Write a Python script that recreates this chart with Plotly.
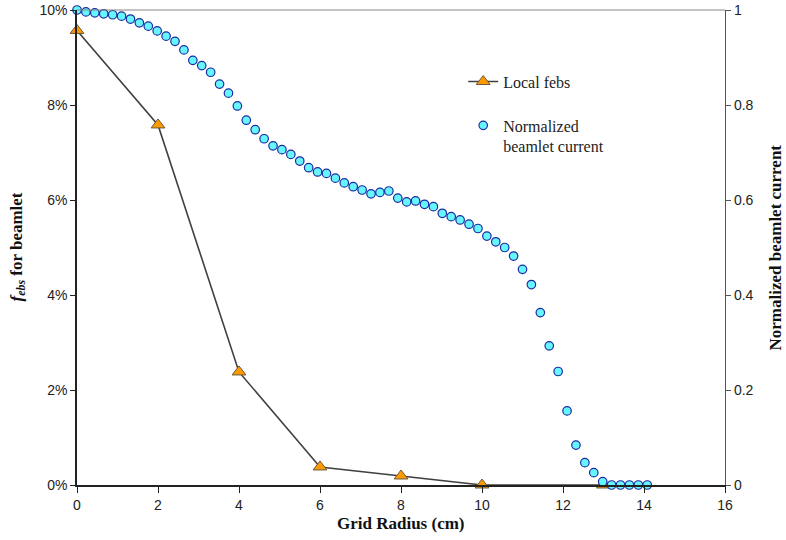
import plotly.graph_objects as go

# Local febs (fraction) vs grid radius
febs_radius = [0, 2, 4, 6, 8, 10, 13]
febs_values = [0.0957, 0.0758, 0.0238, 0.0038, 0.0019, 0.0, 0.0]

# Normalized beamlet current vs grid radius
cur_radius = [0.00, 0.22, 0.44, 0.66, 0.88, 1.10, 1.32, 1.54, 1.76, 1.98,
              2.20, 2.42, 2.64, 2.86, 3.08, 3.30, 3.52, 3.74, 3.96, 4.18,
              4.40, 4.62, 4.84, 5.06, 5.28, 5.50, 5.72, 5.94, 6.16, 6.38,
              6.60, 6.82, 7.04, 7.26, 7.48, 7.70, 7.92, 8.14, 8.36, 8.58,
              8.80, 9.02, 9.24, 9.46, 9.68, 9.90, 10.12, 10.34, 10.56, 10.78,
              11.00, 11.22, 11.44, 11.66, 11.88, 12.10, 12.32, 12.54, 12.76, 12.98,
              13.20, 13.42, 13.64, 13.86, 14.08]
cur_values = [1.000, 0.996, 0.994, 0.992, 0.990, 0.987, 0.981, 0.973, 0.966, 0.956,
              0.945, 0.934, 0.916, 0.894, 0.883, 0.869, 0.844, 0.825, 0.798, 0.768,
              0.748, 0.729, 0.714, 0.706, 0.696, 0.682, 0.668, 0.659, 0.656, 0.646,
              0.636, 0.628, 0.621, 0.613, 0.616, 0.619, 0.604, 0.596, 0.598, 0.591,
              0.586, 0.572, 0.565, 0.558, 0.549, 0.540, 0.524, 0.512, 0.500, 0.482,
              0.454, 0.422, 0.363, 0.293, 0.239, 0.156, 0.084, 0.047, 0.026, 0.007,
              0.0, 0.0, 0.0, 0.0, 0.0]

x_ticks = [0, 2, 4, 6, 8, 10, 12, 14, 16]
y_left_ticks = [0, 0.02, 0.04, 0.06, 0.08, 0.10]
y_right_ticks = [0, 0.2, 0.4, 0.6, 0.8, 1]

SERIF = "Liberation Serif, Times New Roman, serif"
SANS = "Liberation Sans, Arial, sans-serif"

fig = go.Figure()

fig.add_trace(go.Scatter(
    x=febs_radius, y=febs_values, name="Local febs",
    mode="lines+markers",
    line=dict(color="#404040", width=1.6),
    marker=dict(symbol="triangle-up", size=12, color="#FF9900",
                line=dict(color="#6b5a3a", width=1)),
    cliponaxis=False, yaxis="y", legendgroup="a",
))

fig.add_trace(go.Scatter(
    x=cur_radius, y=cur_values, name="Normalized<br>beamlet current",
    mode="markers",
    marker=dict(symbol="circle", size=8.5, color="#66F6FF",
                line=dict(color="#1c2aa0", width=1.2)),
    cliponaxis=False, yaxis="y2", legendgroup="b",
))

fig.update_layout(
    width=786, height=540,
    margin=dict(l=77, r=61, t=10, b=55, autoexpand=False),
    paper_bgcolor="white", plot_bgcolor="white",
    showlegend=True,
    legend=dict(x=0.596, y=0.885, xanchor="left", yanchor="top",
                font=dict(family=SERIF, size=16, color="#222"),
                bgcolor="rgba(0,0,0,0)", tracegroupgap=20, valign="top",
                itemwidth=30),
    xaxis=dict(range=[0, 16], tickvals=x_ticks, showgrid=False, zeroline=False,
               showline=True, linecolor="#222", linewidth=1.5, automargin=False,
               ticks="outside", ticklen=6, tickcolor="#222",
               tickfont=dict(family=SANS, size=14, color="#222")),
    yaxis=dict(range=[0, 0.10], tickvals=y_left_ticks, tickformat=".0%",
               showgrid=False, zeroline=False, automargin=False,
               showline=True, linecolor="#222", linewidth=1.5,
               ticks="outside", ticklen=5, tickcolor="#222",
               tickfont=dict(family=SANS, size=14, color="#222")),
    yaxis2=dict(range=[0, 1], tickvals=y_right_ticks, overlaying="y", side="right",
                showgrid=False, zeroline=False, automargin=False,
                showline=True, linecolor="#555", linewidth=1.2,
                ticks="outside", ticklen=5, tickcolor="#555",
                tickfont=dict(family=SANS, size=14, color="#222")),
    yaxis3=dict(range=[0, 1], tickvals=y_right_ticks, overlaying="y", side="right",
                anchor="x", showgrid=False, zeroline=False, automargin=False,
                showline=False, showticklabels=False,
                ticks="inside", ticklen=4, tickcolor="#555"),
    shapes=[dict(type="line", xref="paper", yref="paper", x0=0, x1=1, y0=1, y1=1,
                 line=dict(color="#888", width=1.2))],
    annotations=[
        dict(text="<b><i>f</i><sub><i>ebs</i></sub> for beamlet</b>",
             xref="paper", yref="paper", x=0, y=0.5, xshift=-60,
             xanchor="center", yanchor="middle", textangle=-90, showarrow=False,
             font=dict(family=SERIF, size=17, color="#111")),
        dict(text="<b>Normalized beamlet current</b>",
             xref="paper", yref="paper", x=1, y=0.5, xshift=50,
             xanchor="center", yanchor="middle", textangle=-90, showarrow=False,
             font=dict(family=SERIF, size=17, color="#111")),
        dict(text="<b>Grid Radius (cm)</b>",
             xref="paper", yref="paper", x=0.5, y=0, yshift=-38,
             xanchor="center", yanchor="middle", showarrow=False,
             font=dict(family=SERIF, size=17, color="#111")),
    ],
)

fig.write_html("out.html",
               config={"displayModeBar": False},
               post_script="document.body.style.margin='0';document.body.style.overflow='hidden';")
